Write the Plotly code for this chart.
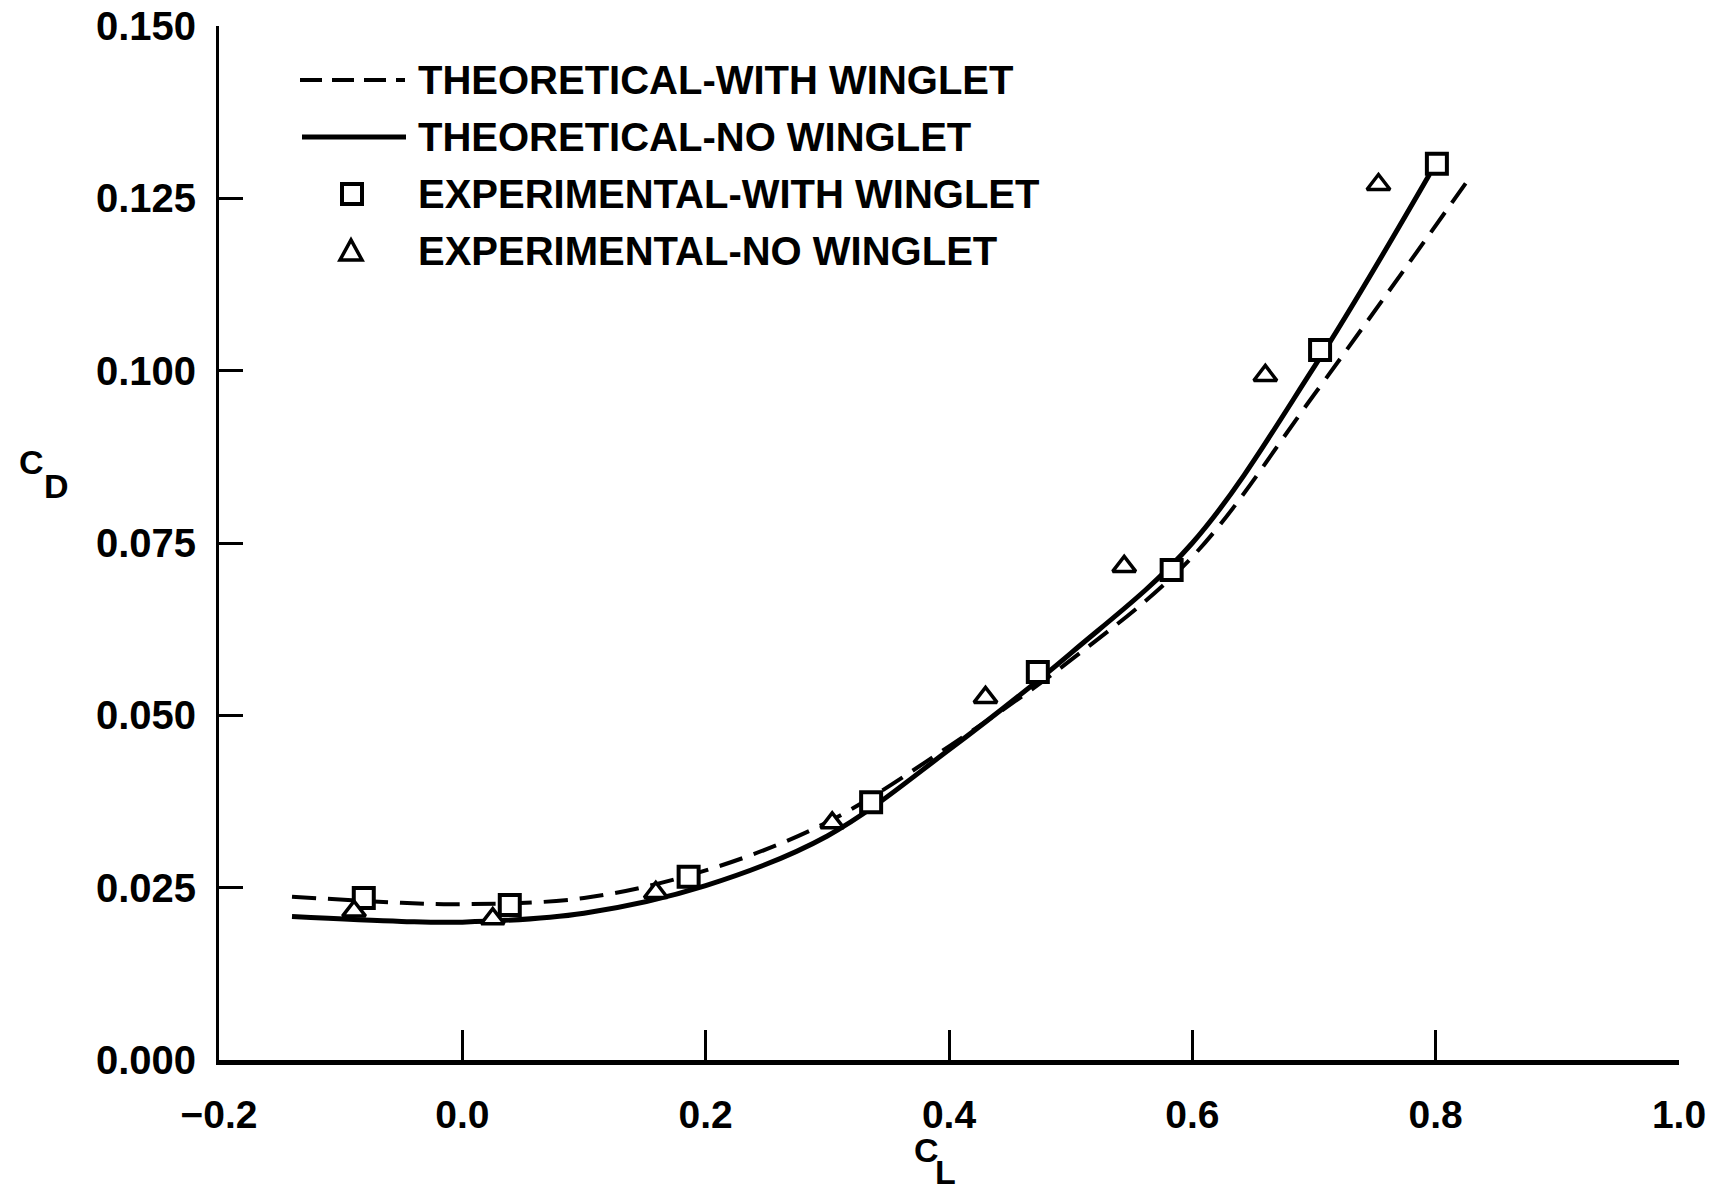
import plotly.graph_objects as go

# ---- data ----
cl_theory_winglet = [-0.14, -0.05, 0.0, 0.1, 0.2, 0.3, 0.4, 0.5, 0.6, 0.7, 0.83]
cd_theory_winglet = [0.0237, 0.0228, 0.0226, 0.0235, 0.0275, 0.0345, 0.0455, 0.058, 0.073, 0.0965, 0.1285]
cl_theory_no = [-0.14, -0.05, 0.0, 0.1, 0.2, 0.3, 0.4, 0.5, 0.6, 0.7, 0.795]
cd_theory_no = [0.0208, 0.0201, 0.0200, 0.0213, 0.0253, 0.0325, 0.045, 0.059, 0.075, 0.1005, 0.1285]
cl_exp_winglet = [-0.081, 0.039, 0.186, 0.336, 0.473, 0.583, 0.705, 0.801]
cd_exp_winglet = [0.0235, 0.0225, 0.0266, 0.0374, 0.0563, 0.0711, 0.103, 0.130]
cl_exp_no = [-0.089, 0.025, 0.159, 0.304, 0.430, 0.544, 0.660, 0.753]
cd_exp_no = [0.0216, 0.0205, 0.0243, 0.0344, 0.0526, 0.0716, 0.0993, 0.127]

x_ticks = [-0.2, 0.0, 0.2, 0.4, 0.6, 0.8, 1.0]
y_ticks = [0.000, 0.025, 0.050, 0.075, 0.100, 0.125, 0.150]
y_tick_text = ["0.000", "0.025", "0.050", "0.075", "0.100", "0.125", "0.150"]

legend_labels = ["THEORETICAL-WITH WINGLET", "THEORETICAL-NO WINGLET",
                 "EXPERIMENTAL-WITH WINGLET", "EXPERIMENTAL-NO WINGLET"]

W, H = 1718, 1194
ML, MR, MT, MB = 219, 39, 26, 134
PW, PH = W - ML - MR, H - MT - MB

FONT = "Liberation Sans, Arial, sans-serif"


def px(x):
    return (x - ML) / PW


def py(y):
    return (H - MB - y) / PH


fig = go.Figure()

fig.add_trace(go.Scatter(x=cl_theory_winglet, y=cd_theory_winglet, mode="lines",
                         line=dict(color="black", width=4, dash="24px,12px", shape="spline", smoothing=1),
                         showlegend=False, cliponaxis=False))
fig.add_trace(go.Scatter(x=cl_theory_no, y=cd_theory_no, mode="lines",
                         line=dict(color="black", width=5, shape="spline", smoothing=1),
                         showlegend=False, cliponaxis=False))
fig.add_trace(go.Scatter(x=cl_exp_winglet, y=cd_exp_winglet, mode="markers",
                         marker=dict(symbol="square", size=20, color="white",
                                     line=dict(color="black", width=4)),
                         showlegend=False, cliponaxis=False))
fig.add_trace(go.Scatter(x=cl_exp_no, y=cd_exp_no, mode="markers",
                         marker=dict(symbol="triangle-up", size=20, color="white",
                                     line=dict(color="black", width=3.5)),
                         showlegend=False, cliponaxis=False))

shapes = []
annotations = []

# manual legend
rows_y = [80, 137, 194, 251]
text_x = 416
shapes.append(dict(type="line", xref="paper", yref="paper",
                   x0=px(300), x1=px(405), y0=py(rows_y[0]), y1=py(rows_y[0]),
                   line=dict(color="black", width=4, dash="22px,10px")))
shapes.append(dict(type="line", xref="paper", yref="paper",
                   x0=px(302), x1=px(406), y0=py(rows_y[1]), y1=py(rows_y[1]),
                   line=dict(color="black", width=5)))
shapes.append(dict(type="rect", xref="paper", yref="paper",
                   x0=px(342), x1=px(362), y0=py(rows_y[2] + 10), y1=py(rows_y[2] - 10),
                   line=dict(color="black", width=4), fillcolor="white"))
tx, ty = 351, rows_y[3]
shapes.append(dict(type="path", xref="paper", yref="paper",
                   path=f"M {px(tx-11)},{py(ty+9)} L {px(tx+11)},{py(ty+9)} L {px(tx)},{py(ty-11)} Z",
                   line=dict(color="black", width=3.5), fillcolor="white"))

for lab, yy in zip(legend_labels, rows_y):
    annotations.append(dict(xref="paper", yref="paper", x=px(text_x), y=py(yy),
                            xanchor="left", yanchor="middle", text=lab, showarrow=False,
                            font=dict(family=FONT, size=40, color="black", weight=700)))

# axis titles
title_font = dict(family=FONT, size=34, color="black", weight=700)
annotations.append(dict(xref="paper", yref="paper", x=px(31), y=py(462), text="C",
                        showarrow=False, xanchor="center", yanchor="middle", font=title_font))
annotations.append(dict(xref="paper", yref="paper", x=px(56), y=py(486), text="D",
                        showarrow=False, xanchor="center", yanchor="middle", font=title_font))
annotations.append(dict(xref="paper", yref="paper", x=px(926), y=py(1150), text="C",
                        showarrow=False, xanchor="center", yanchor="middle", font=title_font))
annotations.append(dict(xref="paper", yref="paper", x=px(945), y=py(1172), text="L",
                        showarrow=False, xanchor="center", yanchor="middle", font=title_font))

fig.update_layout(
    width=W, height=H,
    margin=dict(l=ML, r=MR, t=MT, b=MB, pad=0, autoexpand=False),
    paper_bgcolor="white", plot_bgcolor="white",
    shapes=shapes, annotations=annotations,
    showlegend=False,
    xaxis=dict(range=[-0.2, 1.0], tickvals=x_ticks, tickformat=".1f", automargin=False,
               ticks="inside", ticklen=30, tickwidth=3, tickcolor="black",
               showline=True, linecolor="black", linewidth=5, showgrid=False, zeroline=False,
               ticklabelstandoff=16,
               tickfont=dict(family=FONT, size=39, color="black", weight=700)),
    yaxis=dict(range=[0.0, 0.150], tickvals=y_ticks, ticktext=y_tick_text, automargin=False,
               ticks="inside", ticklen=24, tickwidth=3, tickcolor="black",
               showline=True, linecolor="black", linewidth=3, showgrid=False, zeroline=False,
               ticklabelstandoff=12, ticklabeloverflow="allow",
               tickfont=dict(family=FONT, size=40, color="black", weight=700)),
)

fig.write_html("out.html", config={"displayModeBar": False},
               post_script="document.body.style.margin='0';document.body.style.overflow='hidden';")
